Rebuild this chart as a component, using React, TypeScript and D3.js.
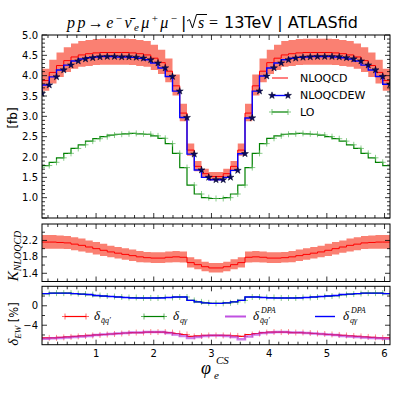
import React, { useEffect, useRef } from "react";
import * as d3 from "d3";

// bin centres of phi_e^CS (50 bins over 0..2pi, last one not shown)
const phi = [
  0.0628, 0.1885, 0.3142, 0.4398, 0.5655, 0.6912, 0.8168, 0.9425, 1.0681, 1.1938,
  1.3195, 1.4451, 1.5708, 1.6965, 1.8221, 1.9478, 2.0735, 2.1991, 2.3248, 2.4504,
  2.5761, 2.7018, 2.8274, 2.9531, 3.0788, 3.2044, 3.3301, 3.4558, 3.5814, 3.7071,
  3.8327, 3.9584, 4.0841, 4.2097, 4.3354, 4.4611, 4.5867, 4.7124, 4.8381, 4.9637,
  5.0894, 5.215, 5.3407, 5.4664, 5.592, 5.7177, 5.8434, 5.969, 6.0947,
];

// [fb]
const nloqcd = [
  3.66, 3.88, 4.08, 4.25, 4.37, 4.46, 4.51, 4.54, 4.56, 4.57, 4.57, 4.57, 4.57, 4.56, 4.54, 4.51, 4.43,
  4.32, 4.11, 3.75, 3.08, 2.17, 1.77, 1.59, 1.52, 1.52, 1.59, 1.77, 2.17, 3.08, 3.75, 4.11, 4.32, 4.43,
  4.51, 4.54, 4.56, 4.57, 4.57, 4.57, 4.57, 4.56, 4.54, 4.51, 4.46, 4.37, 4.25, 4.08, 3.88,
];
const nloqcdUp = [
  3.93, 4.17, 4.39, 4.57, 4.7, 4.79, 4.85, 4.88, 4.9, 4.91, 4.91, 4.91, 4.91, 4.9, 4.88, 4.85, 4.76,
  4.64, 4.42, 4.03, 3.31, 2.33, 1.9, 1.71, 1.63, 1.63, 1.71, 1.9, 2.33, 3.31, 4.03, 4.42, 4.64, 4.76,
  4.85, 4.88, 4.9, 4.91, 4.91, 4.91, 4.91, 4.9, 4.88, 4.85, 4.79, 4.7, 4.57, 4.39, 4.17,
];
const nloqcdDown = [
  3.42, 3.63, 3.81, 3.97, 4.09, 4.17, 4.22, 4.24, 4.26, 4.27, 4.27, 4.27, 4.27, 4.26, 4.24, 4.22, 4.14,
  4.04, 3.84, 3.51, 2.88, 2.03, 1.65, 1.49, 1.42, 1.42, 1.49, 1.65, 2.03, 2.88, 3.51, 3.84, 4.04, 4.14,
  4.22, 4.24, 4.26, 4.27, 4.27, 4.27, 4.27, 4.26, 4.24, 4.22, 4.17, 4.09, 3.97, 3.81, 3.63,
];
const nloqcdew = [
  3.56, 3.77, 3.97, 4.14, 4.26, 4.36, 4.41, 4.44, 4.46, 4.47, 4.47, 4.46, 4.46, 4.45, 4.43, 4.39, 4.31,
  4.19, 3.98, 3.62, 2.97, 2.07, 1.68, 1.5, 1.44, 1.44, 1.5, 1.67, 2.08, 2.96, 3.62, 3.99, 4.19, 4.31,
  4.39, 4.43, 4.45, 4.46, 4.47, 4.47, 4.47, 4.46, 4.44, 4.41, 4.36, 4.26, 4.14, 3.98, 3.79,
];
const lo = [
  1.74, 1.79, 1.87, 1.98, 2.09, 2.21, 2.3, 2.39, 2.45, 2.5, 2.54, 2.56, 2.57, 2.58, 2.57, 2.56, 2.52,
  2.46, 2.33, 2.09, 1.74, 1.31, 1.09, 1.0, 0.98, 0.98, 1.0, 1.09, 1.31, 1.74, 2.09, 2.33, 2.46, 2.52,
  2.56, 2.57, 2.58, 2.57, 2.56, 2.54, 2.5, 2.45, 2.39, 2.3, 2.21, 2.09, 1.98, 1.87, 1.79,
];

// K factor NLOQCD / LO
const kFactor = [
  2.16, 2.16, 2.16, 2.15, 2.14, 2.11, 2.08, 2.04, 2.0, 1.96, 1.92, 1.89, 1.86, 1.83, 1.8, 1.78, 1.77,
  1.77, 1.79, 1.8, 1.79, 1.66, 1.61, 1.56, 1.53, 1.53, 1.56, 1.61, 1.66, 1.79, 1.8, 1.79, 1.77, 1.77,
  1.78, 1.8, 1.83, 1.86, 1.89, 1.92, 1.96, 2.0, 2.04, 2.08, 2.11, 2.14, 2.15, 2.16, 2.16,
];
const kUp = [
  2.33, 2.33, 2.33, 2.32, 2.31, 2.28, 2.25, 2.2, 2.16, 2.12, 2.07, 2.04, 2.01, 1.98, 1.94, 1.92, 1.91,
  1.91, 1.93, 1.94, 1.93, 1.79, 1.74, 1.68, 1.65, 1.65, 1.68, 1.74, 1.79, 1.93, 1.94, 1.93, 1.91, 1.91,
  1.92, 1.94, 1.98, 2.01, 2.04, 2.07, 2.12, 2.16, 2.2, 2.25, 2.28, 2.31, 2.32, 2.33, 2.33,
];
const kDown = [
  2.0, 2.0, 2.0, 2.0, 1.99, 1.96, 1.93, 1.9, 1.86, 1.82, 1.79, 1.76, 1.73, 1.7, 1.67, 1.66, 1.65,
  1.65, 1.66, 1.67, 1.66, 1.54, 1.5, 1.45, 1.42, 1.42, 1.45, 1.5, 1.54, 1.66, 1.67, 1.66, 1.65, 1.65,
  1.66, 1.67, 1.7, 1.73, 1.76, 1.79, 1.82, 1.86, 1.9, 1.93, 1.96, 1.99, 2.0, 2.0, 2.0,
];

// EW corrections [%]
const deltaQQ = [
  -6.7, -6.6, -6.6, -6.5, -6.4, -6.3, -6.2, -6.1, -6.0, -5.9, -5.8, -5.7, -5.6, -5.5, -5.5, -5.4, -5.4,
  -5.4, -5.5, -5.7, -5.9, -6.3, -6.2, -6.1, -6.1, -6.1, -6.1, -6.2, -6.3, -5.9, -5.7, -5.5, -5.4, -5.4,
  -5.4, -5.5, -5.5, -5.6, -5.7, -5.8, -5.9, -6.0, -6.1, -6.2, -6.3, -6.4, -6.5, -6.6, -6.6,
];
const deltaQG = [
  2.4, 2.5, 2.6, 2.6, 2.6, 2.5, 2.4, 2.3, 2.1, 2.0, 1.9, 1.8, 1.7, 1.7, 1.6, 1.6, 1.6,
  1.7, 1.7, 1.8, 1.8, 1.1, 0.8, 0.6, 0.5, 0.5, 0.6, 0.8, 1.1, 1.8, 1.8, 1.7, 1.7, 1.6,
  1.6, 1.6, 1.7, 1.7, 1.8, 1.9, 2.0, 2.1, 2.3, 2.4, 2.5, 2.6, 2.6, 2.6, 2.5,
];
const deltaQQdpa = [
  -6.9, -6.8, -6.7, -6.6, -6.5, -6.4, -6.3, -6.2, -6.0, -5.9, -5.8, -5.7, -5.6, -5.5, -5.5, -5.4, -5.4,
  -5.4, -5.6, -5.9, -6.2, -6.6, -6.4, -6.2, -6.1, -6.1, -6.2, -6.4, -6.9, -6.3, -5.9, -5.6, -5.5, -5.4,
  -5.4, -5.5, -5.5, -5.6, -5.7, -5.8, -5.9, -6.0, -6.2, -6.3, -6.4, -6.5, -6.6, -6.7, -6.8,
];
const deltaQGdpa = [
  2.4, 2.5, 2.6, 2.6, 2.6, 2.5, 2.4, 2.3, 2.1, 2.0, 1.9, 1.8, 1.7, 1.6, 1.6, 1.6, 1.6,
  1.6, 1.7, 1.8, 1.8, 1.1, 0.8, 0.6, 0.5, 0.5, 0.6, 0.8, 1.1, 1.8, 1.8, 1.7, 1.6, 1.6,
  1.6, 1.6, 1.6, 1.7, 1.8, 1.9, 2.0, 2.1, 2.3, 2.4, 2.5, 2.6, 2.6, 2.6, 2.5,
];

// ticks
const xTicks = [1, 2, 3, 4, 5, 6];
const topTicks = [1.0, 1.5, 2.0, 2.5, 3.0, 3.5, 4.0, 4.5, 5.0];
const kTicks = [1.4, 1.8, 2.2];
const kMinor = [1.6, 2.0, 2.4];
const ewTicks = [-4, 0];
const ewMinor = [-6, -2, 2];

const left = 42;
const right = 390;
const sans = "DejaVu Sans, sans-serif";
const serif = "Liberation Serif, DejaVu Serif, serif";

export default function App() {
  const plotRef = useRef<SVGGElement>(null);

  useEffect(() => {
    const root = d3.select(plotRef.current);
    root.selectAll("*").remove();

    const x = d3.scaleLinear([phi[0], phi[phi.length - 1]], [left, right]);
    const idx = d3.range(phi.length);
    const notInt = (v: number) => Math.abs(v - Math.round(v)) > 1e-6;
    const xMinor = d3
      .range(1, 37)
      .map((k) => k / 6)
      .filter((v) => v < phi[phi.length - 1] && notInt(v));

    function stepLine(arr: number[], y: any) {
      return d3
        .line<number>()
        .x((i) => x(phi[i]))
        .y((i) => y(arr[i]))
        .curve(d3.curveStepBefore)(idx);
    }
    function stepBand(lo_: number[], hi: number[], y: any) {
      return d3
        .area<number>()
        .x((i) => x(phi[i]))
        .y0((i) => y(lo_[i]))
        .y1((i) => y(hi[i]))
        .curve(d3.curveStepBefore)(idx);
    }
    function plusPath(px: number, py: number, s: number) {
      return `M${px - s},${py}h${2 * s}M${px},${py - s}v${2 * s}`;
    }

    function makePanel(id: string, top: number, bottom: number, domain: number[]) {
      const y = d3.scaleLinear(domain, [bottom, top]);
      root
        .append("clipPath")
        .attr("id", id)
        .append("rect")
        .attr("x", left)
        .attr("y", top)
        .attr("width", right - left)
        .attr("height", bottom - top);
      const body = root.append("g").attr("clip-path", `url(#${id})`);
      return { y, body, top, bottom };
    }

    function drawFrame(p: any, majors: number[], minors: number[], fmt: (v: number) => string, xLabels: boolean) {
      const g = root.append("g").attr("stroke", "black").attr("stroke-width", 0.8);
      const { y, top, bottom } = p;
      xTicks.forEach((v) => {
        g.append("line").attr("x1", x(v)).attr("x2", x(v)).attr("y1", top).attr("y2", top + 5);
        g.append("line").attr("x1", x(v)).attr("x2", x(v)).attr("y1", bottom).attr("y2", bottom - 5);
      });
      xMinor.forEach((v) => {
        g.append("line").attr("x1", x(v)).attr("x2", x(v)).attr("y1", top).attr("y2", top + 3);
        g.append("line").attr("x1", x(v)).attr("x2", x(v)).attr("y1", bottom).attr("y2", bottom - 3);
      });
      majors.forEach((v) => {
        g.append("line").attr("x1", left).attr("x2", left + 5).attr("y1", y(v)).attr("y2", y(v));
        g.append("line").attr("x1", right).attr("x2", right - 5).attr("y1", y(v)).attr("y2", y(v));
      });
      minors.forEach((v) => {
        g.append("line").attr("x1", left).attr("x2", left + 3).attr("y1", y(v)).attr("y2", y(v));
        g.append("line").attr("x1", right).attr("x2", right - 3).attr("y1", y(v)).attr("y2", y(v));
      });
      g.append("rect")
        .attr("x", left)
        .attr("y", top)
        .attr("width", right - left)
        .attr("height", bottom - top)
        .attr("fill", "none")
        .attr("stroke-width", 1);
      const lab = root.append("g").attr("font-family", sans).attr("font-size", 10);
      majors.forEach((v) => {
        lab
          .append("text")
          .attr("x", left - 4)
          .attr("y", y(v))
          .attr("text-anchor", "end")
          .attr("dominant-baseline", "central")
          .text(fmt(v));
      });
      if (xLabels) {
        xTicks.forEach((v) => {
          lab
            .append("text")
            .attr("x", x(v))
            .attr("y", bottom + 12.5)
            .attr("text-anchor", "middle")
            .text(String(v));
        });
      }
    }

    const star = d3.symbol(d3.symbolStar, 15)();

    // ---------- top panel: cross sections ----------
    const p1 = makePanel("clipTop", 35, 218, [0.5, 5.0]);
    p1.body.append("path").attr("d", stepBand(nloqcdDown, nloqcdUp, p1.y)).attr("fill", "#fa8072");
    p1.body.append("path").attr("d", stepLine(nloqcd, p1.y)).attr("fill", "none").attr("stroke", "#ff0000").attr("stroke-width", 1);
    p1.body.append("path").attr("d", stepLine(lo, p1.y)).attr("fill", "none").attr("stroke", "#008000").attr("stroke-width", 1.2);
    p1.body
      .append("g")
      .selectAll("path")
      .data(idx)
      .join("path")
      .attr("d", (i) => plusPath(x(phi[i]), p1.y(lo[i]), 3))
      .attr("stroke", "#5cb85c")
      .attr("stroke-opacity", 0.7)
      .attr("stroke-width", 1);
    p1.body.append("path").attr("d", stepLine(nloqcdew, p1.y)).attr("fill", "none").attr("stroke", "#0000ff").attr("stroke-width", 1.4);
    p1.body
      .append("g")
      .selectAll("path")
      .data(idx)
      .join("path")
      .attr("d", star)
      .attr("transform", (i) => `translate(${x(phi[i])},${p1.y(nloqcdew[i])})`)
      .attr("fill", "#0b0b5e")
      .attr("stroke", "#000022")
      .attr("stroke-width", 0.5);
    drawFrame(
      p1,
      [0.5, ...topTicks],
      d3.range(6, 50).map((v) => v / 10).filter((v) => notInt(v * 2)),
      (v) => (v < 0.9 ? "" : d3.format(".1f")(v)),
      false
    );

    // legend top
    const lg = root.append("g");
    const legY = [78, 95.5, 112];
    lg.append("line").attr("x1", 272).attr("x2", 288).attr("y1", legY[0]).attr("y2", legY[0]).attr("stroke", "#ff0000");
    lg.append("line").attr("x1", 272).attr("x2", 288).attr("y1", legY[1]).attr("y2", legY[1]).attr("stroke", "#0000ff").attr("stroke-width", 1.4);
    [272, 288].forEach((lx) => {
      lg.append("path").attr("d", star).attr("transform", `translate(${lx},${legY[1]})`).attr("fill", "#0b0b5e").attr("stroke", "#000022").attr("stroke-width", 0.5);
    });
    lg.append("line").attr("x1", 272).attr("x2", 288).attr("y1", legY[2]).attr("y2", legY[2]).attr("stroke", "#008000").attr("stroke-width", 1.2);
    [272, 288].forEach((lx) => {
      lg.append("path").attr("d", plusPath(lx, legY[2], 3)).attr("stroke", "#5cb85c").attr("stroke-opacity", 0.8);
    });
    ["NLOQCD", "NLOQCDEW", "LO"].forEach((t, i) => {
      lg.append("text")
        .attr("x", 300)
        .attr("y", legY[i])
        .attr("dominant-baseline", "central")
        .attr("font-family", sans)
        .attr("font-size", 11)
        .text(t);
    });

    // ---------- middle panel: K factor ----------
    const p2 = makePanel("clipMid", 224, 281.5, [1.2, 2.6]);
    p2.body.append("path").attr("d", stepBand(kDown, kUp, p2.y)).attr("fill", "#fa8072");
    p2.body.append("path").attr("d", stepLine(kFactor, p2.y)).attr("fill", "none").attr("stroke", "#ff0000").attr("stroke-width", 1);
    drawFrame(p2, kTicks, kMinor, d3.format(".1f"), false);

    // ---------- bottom panel: EW corrections ----------
    const p3 = makePanel("clipBot", 286.3, 344.7, [-8, 4]);
    const plusMarks = (arr: number[], color: string) =>
      p3.body
        .append("g")
        .selectAll("path")
        .data(idx)
        .join("path")
        .attr("d", (i) => plusPath(x(phi[i]), p3.y(arr[i]), 3))
        .attr("stroke", color)
        .attr("stroke-opacity", 0.55)
        .attr("stroke-width", 1);
    p3.body.append("path").attr("d", stepLine(deltaQQ, p3.y)).attr("fill", "none").attr("stroke", "#ff0000").attr("stroke-width", 1.2);
    plusMarks(deltaQQ, "#ff3030");
    p3.body.append("path").attr("d", stepLine(deltaQG, p3.y)).attr("fill", "none").attr("stroke", "#008000").attr("stroke-width", 1.2);
    plusMarks(deltaQG, "#2ca02c");
    p3.body.append("path").attr("d", stepLine(deltaQQdpa, p3.y)).attr("fill", "none").attr("stroke", "#b026d9").attr("stroke-opacity", 0.6).attr("stroke-width", 2.5);
    p3.body.append("path").attr("d", stepLine(deltaQGdpa, p3.y)).attr("fill", "none").attr("stroke", "#0000ff").attr("stroke-width", 1.4);
    drawFrame(p3, ewTicks, ewMinor, (v) => (v < 0 ? "\u2212" + Math.abs(v) : String(v)), true);

    // legend bottom
    const lb = root.append("g");
    const by = 316.5;
    const entries = [
      { x0: 65, x1: 86, color: "#ff0000", plus: true, w: 1.2, op: 1 },
      { x0: 144, x1: 164, color: "#008000", plus: true, w: 1.2, op: 1 },
      { x0: 225, x1: 246, color: "#b026d9", plus: false, w: 2, op: 0.8 },
      { x0: 315, x1: 335, color: "#0000ff", plus: false, w: 1.4, op: 1 },
    ];
    entries.forEach((e) => {
      lb.append("line").attr("x1", e.x0).attr("x2", e.x1).attr("y1", by).attr("y2", by).attr("stroke", e.color).attr("stroke-width", e.w).attr("stroke-opacity", e.op);
      if (e.plus) {
        [e.x0, e.x1].forEach((lx) => {
          lb.append("path").attr("d", plusPath(lx, by, 3)).attr("stroke", e.color).attr("stroke-opacity", 0.6);
        });
      }
    });
  }, []);

  const sub = { fontSize: 8 };
  return (
    <svg width={399} height={399} style={{ position: "absolute", left: 0, top: 0, background: "white" }}>
      <rect width={399} height={399} fill="white" />
      {/* title */}
      <text x={67} y={28} fontFamily={serif} fontSize={16} fontStyle="italic" textLength={110} lengthAdjust="spacing">
        {"pp"}
        <tspan fontStyle="normal">{"\u2192"}</tspan>
        {"e"}
        <tspan dy={-6} fontSize={11} fontStyle="normal">{"\u2212"}</tspan>
        <tspan dy={6}>{"\u03bd\u0304"}</tspan>
        <tspan dy={3} fontSize={11}>{"e"}</tspan>
        <tspan dy={-3}>{"\u03bc"}</tspan>
        <tspan dy={-6} fontSize={11} fontStyle="normal">{"+"}</tspan>
        <tspan dy={6}>{"\u03bc"}</tspan>
        <tspan dy={-6} fontSize={11} fontStyle="normal">{"\u2212"}</tspan>
      </text>
      <text x={181} y={28} fontFamily={sans} fontSize={16}>|</text>
      <path d="M187,21 L189.5,19.5 L192.5,28 L196.5,14.5 L207,14.5" fill="none" stroke="black" strokeWidth={1} />
      <text x={198} y={28} fontFamily={serif} fontSize={16} fontStyle="italic">s</text>
      <text x={209} y={28} fontFamily={serif} fontSize={16}>=</text>
      <text x={224} y={28} fontFamily={sans} fontSize={16}>13TeV | ATLASfid</text>

      <g ref={plotRef} />

      {/* axis labels */}
      <text transform="translate(17,118) rotate(-90)" textAnchor="middle" fontFamily={sans} fontSize={12}>[fb]</text>
      <text transform="translate(18,256) rotate(-90)" textAnchor="middle" fontFamily={serif} fontStyle="italic" fontSize={15}>
        {"K"}
        <tspan dy={3} fontSize={10}>{"NLOQCD"}</tspan>
      </text>
      <text transform="translate(18,324) rotate(-90)" textAnchor="middle" fontFamily={serif} fontSize={15}>
        <tspan fontStyle="italic">{"\u03b4"}</tspan>
        <tspan dy={3} fontSize={9} fontStyle="italic">{"EW"}</tspan>
        <tspan dy={-3} fontFamily={sans} fontSize={11.5}>{" [%]"}</tspan>
      </text>
      <text x={201} y={374} fontFamily={serif} fontStyle="italic" fontSize={18}>{"\u03c6"}</text>
      <text x={214} y={379} fontFamily={serif} fontStyle="italic" fontSize={11}>e</text>
      <text x={216} y={364} fontFamily={serif} fontStyle="italic" fontSize={11}>CS</text>

      {/* bottom legend labels */}
      <g fontFamily={serif} fontStyle="italic">
        <text x={94} y={320} fontSize={13}>{"\u03b4"}</text>
        <text x={101} y={323} style={sub}>{"q\u0304q\u2032"}</text>
        <text x={173} y={320} fontSize={13}>{"\u03b4"}</text>
        <text x={180} y={323} style={sub}>{"q\u03b3"}</text>
        <text x={253} y={320} fontSize={13}>{"\u03b4"}</text>
        <text x={260} y={323} style={sub}>{"q\u0304q\u2032"}</text>
        <text x={261} y={313} style={sub}>DPA</text>
        <text x={343} y={320} fontSize={13}>{"\u03b4"}</text>
        <text x={350} y={323} style={sub}>{"q\u03b3"}</text>
        <text x={351} y={313} style={sub}>DPA</text>
      </g>
    </svg>
  );
}
